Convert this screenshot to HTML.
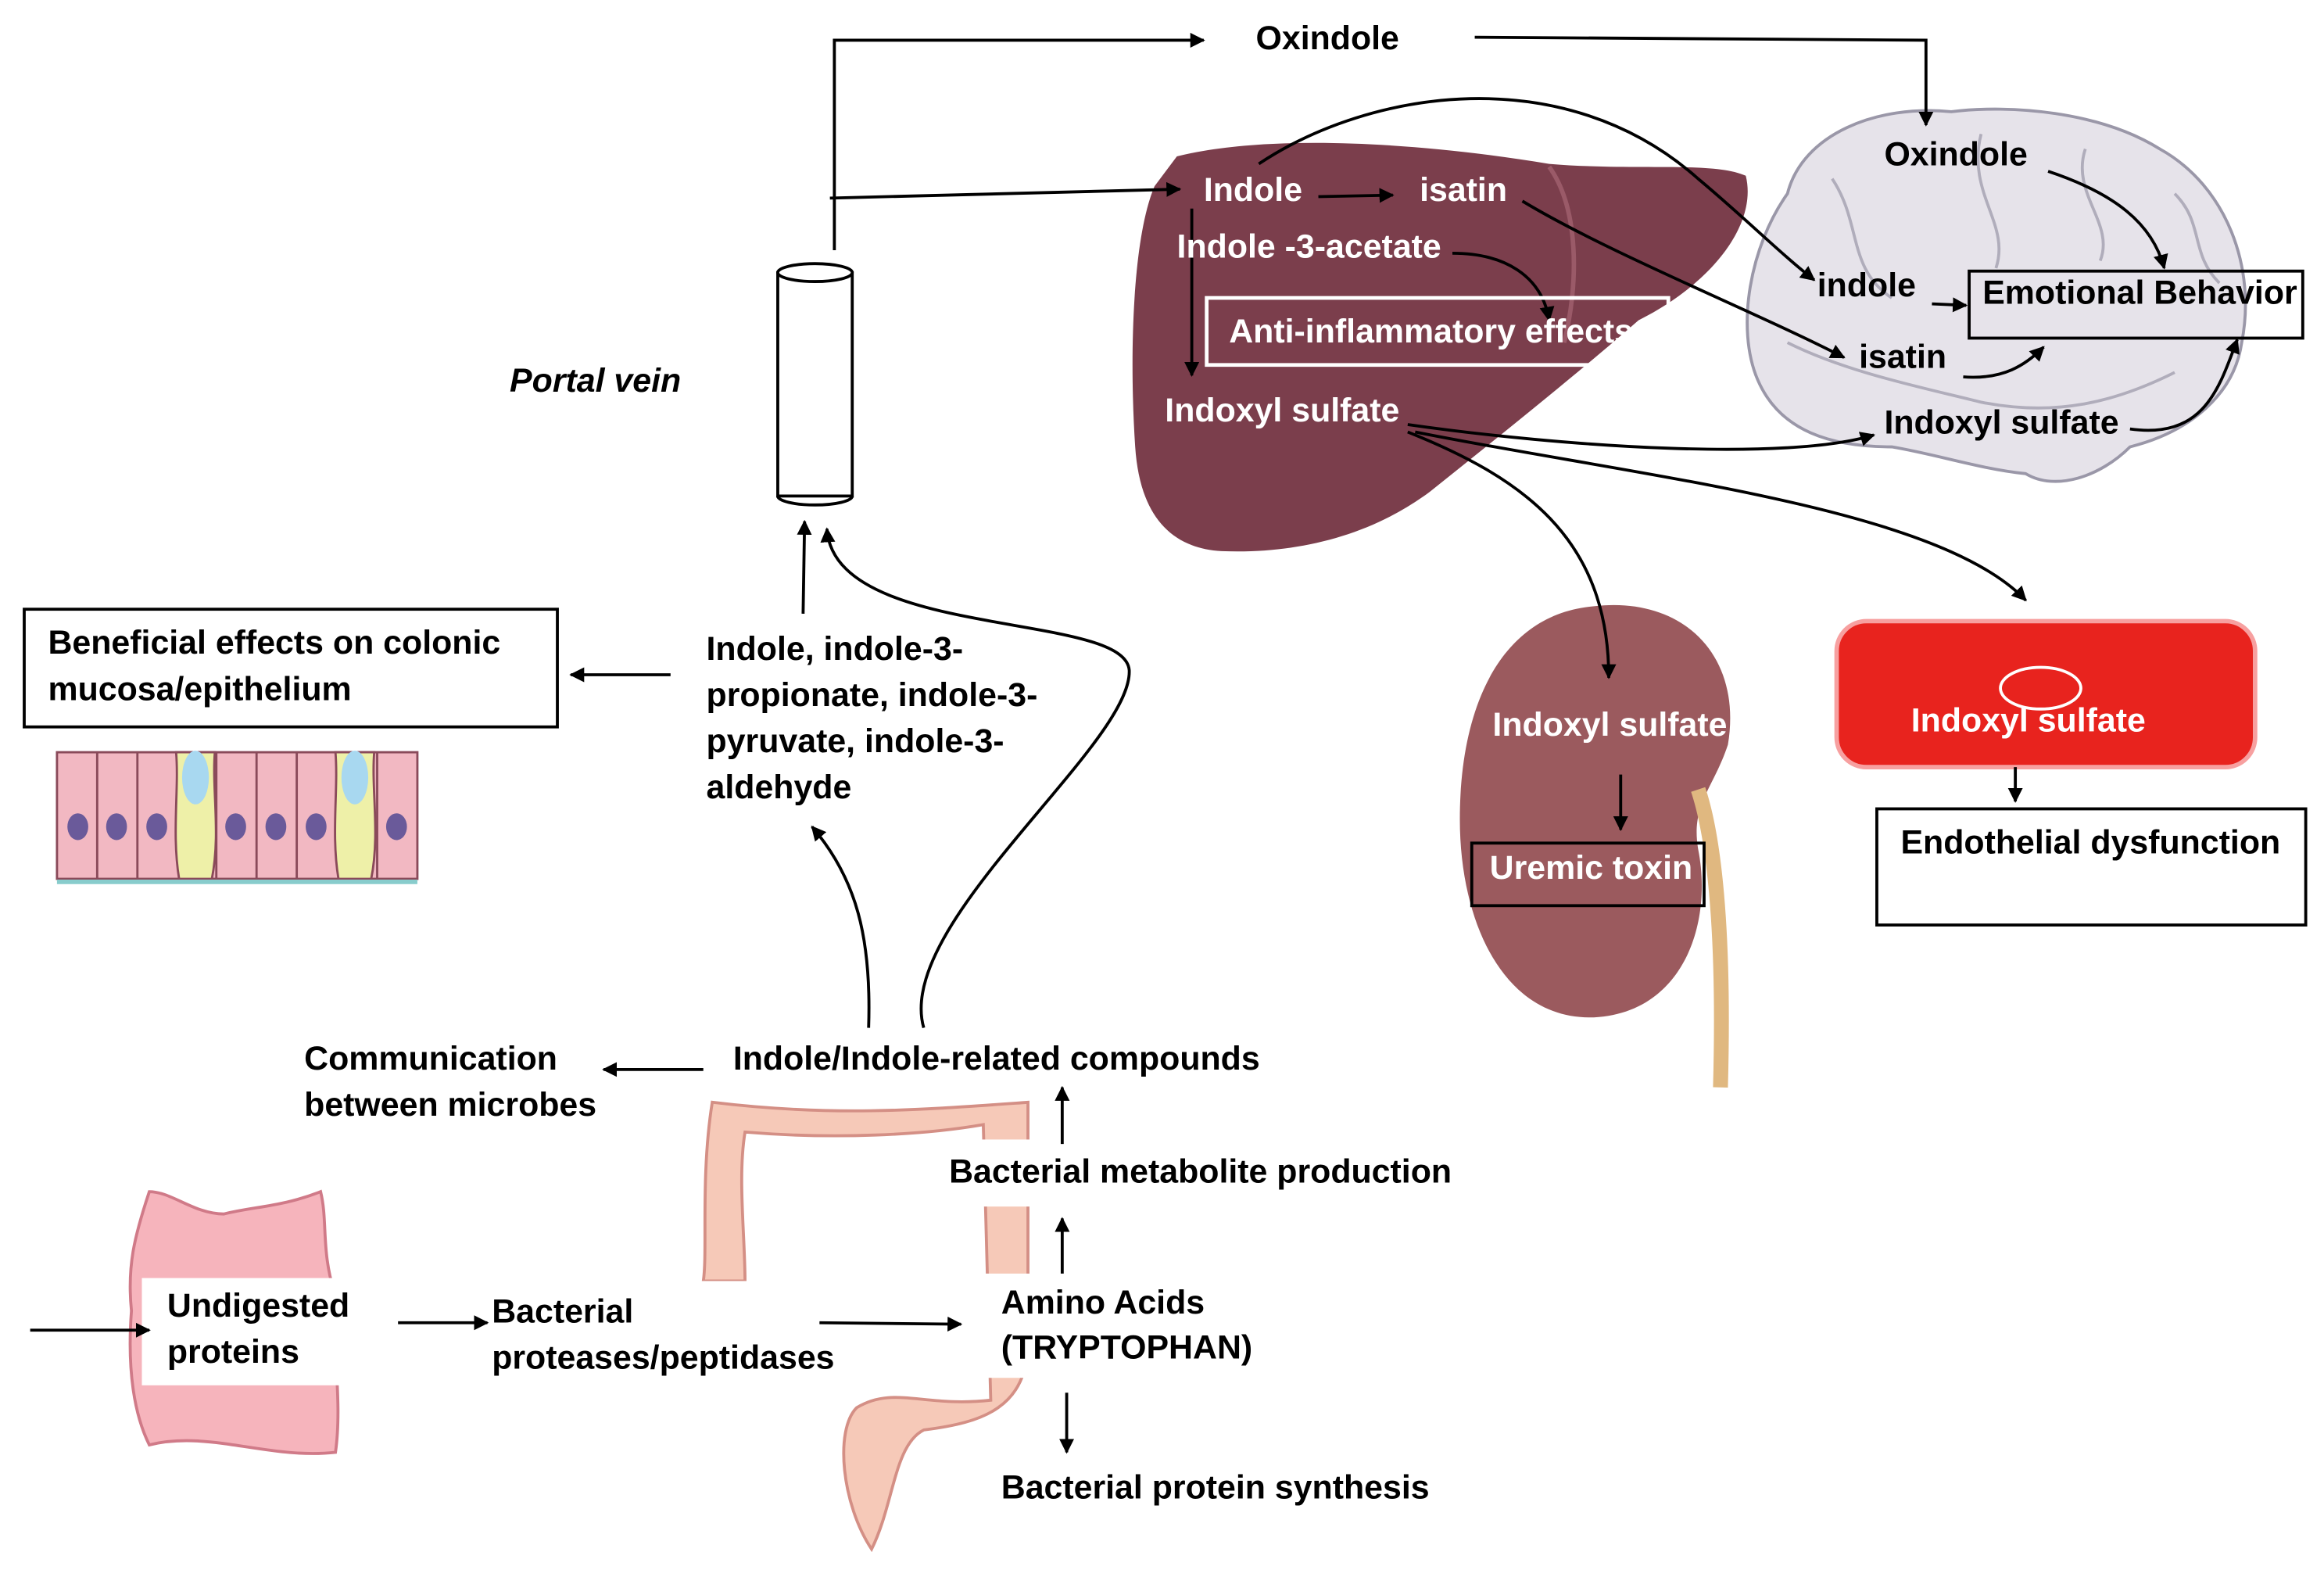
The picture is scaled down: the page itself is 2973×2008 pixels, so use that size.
<!DOCTYPE html>
<html><head><meta charset="utf-8"><style>
html,body{margin:0;padding:0;background:#fff;}
svg{display:block;}
text{font-family:"Liberation Sans",sans-serif;font-weight:bold;font-size:22.5px;dominant-baseline:middle;}
</style></head><body>
<svg width="2973" height="2008" viewBox="0 0 1560 1054" xmlns="http://www.w3.org/2000/svg">
<defs>
<marker id="a" markerWidth="10" markerHeight="10" refX="9" refY="5" orient="auto" markerUnits="userSpaceOnUse"><path d="M0,0 L10,5 L0,10 z" fill="#000"/></marker>
</defs>
<!-- liver -->
<path d="M790,105 C850,90 950,95 1040,110 C1100,115 1150,108 1172,118 C1180,150 1150,190 1100,215 C1060,250 1010,290 960,330 C920,360 870,372 820,370 C785,368 765,345 762,300 C758,240 760,160 775,125 Z" fill="#7b3e4c"/>
<path d="M1040,112 C1060,140 1060,190 1050,230" stroke="#9a5a68" stroke-width="3" fill="none"/>
<!-- brain -->
<path d="M1200,130 C1210,90 1260,70 1310,75 C1350,70 1410,75 1450,100 C1495,125 1515,180 1505,230 C1500,265 1470,290 1430,300 C1410,320 1380,330 1360,318 C1330,315 1300,305 1270,300 C1230,300 1195,290 1180,255 C1165,220 1175,165 1200,130 Z" fill="#e6e3ea" stroke="#9a97a8" stroke-width="2"/>
<g stroke="#b0adbb" stroke-width="2" fill="none">
<path d="M1230,120 C1250,150 1240,180 1270,200"/><path d="M1330,90 C1320,130 1350,150 1340,180"/>
<path d="M1400,100 C1390,130 1420,150 1410,175"/><path d="M1200,230 C1240,250 1290,260 1330,270 C1380,280 1420,270 1460,250"/>
<path d="M1460,130 C1480,150 1470,170 1490,190"/>
</g>
<!-- kidney -->
<path d="M1070,407 C1130,400 1170,440 1160,500 C1150,530 1135,540 1140,570 C1150,620 1130,680 1070,683 C1010,685 980,620 980,550 C980,470 1010,412 1070,407 Z" fill="#9b5a5e"/>
<path d="M1140,530 C1150,560 1158,620 1155,730" stroke="#e0b880" stroke-width="10" fill="none"/>
<!-- red cell -->
<rect x="1233" y="417" width="281" height="98" rx="20" fill="#e8231e" stroke="#f7a0a0" stroke-width="3"/>
<ellipse cx="1370" cy="462" rx="27" ry="14" fill="none" stroke="#fff" stroke-width="2"/>
<!-- portal vein -->
<rect x="522" y="183" width="50" height="150" fill="#fff" stroke="#000" stroke-width="2"/>
<ellipse cx="547" cy="183" rx="25" ry="6" fill="#fff" stroke="#000" stroke-width="2"/>
<path d="M522,333 A25,6 0 0 0 572,333" fill="none" stroke="#000" stroke-width="2"/>
<text x="342" y="257" font-style="italic" font-size="24">Portal vein</text>
<!-- epithelium -->
<g stroke="#8a4a5a" stroke-width="1.5">
<rect x="38" y="505" width="242" height="85" fill="#f2b8c2"/>
<line x1="65" y1="505" x2="65" y2="590"/><line x1="92" y1="505" x2="92" y2="590"/>
<line x1="145" y1="505" x2="145" y2="590"/><line x1="172" y1="505" x2="172" y2="590"/>
<line x1="199" y1="505" x2="199" y2="590"/><line x1="253" y1="505" x2="253" y2="590"/>
<path d="M120,590 C115,560 120,530 118,505 L144,505 C142,530 148,560 142,590 Z" fill="#eef0a8"/>
<path d="M227,590 C222,560 227,530 225,505 L251,505 C249,530 255,560 249,590 Z" fill="#eef0a8"/>
</g>
<ellipse cx="131" cy="522" rx="9" ry="18" fill="#a8d8f0"/><ellipse cx="238" cy="522" rx="9" ry="18" fill="#a8d8f0"/>
<g fill="#6a5a9a"><ellipse cx="52" cy="555" rx="7" ry="9"/><ellipse cx="78" cy="555" rx="7" ry="9"/><ellipse cx="105" cy="555" rx="7" ry="9"/><ellipse cx="158" cy="555" rx="7" ry="9"/><ellipse cx="185" cy="555" rx="7" ry="9"/><ellipse cx="212" cy="555" rx="7" ry="9"/><ellipse cx="266" cy="555" rx="7" ry="9"/></g>
<line x1="38" y1="592" x2="280" y2="592" stroke="#8cc" stroke-width="3"/>
<!-- intestines -->
<g fill="#f6c9b8" stroke="#d48f85" stroke-width="2">
<path d="M478,740 C470,790 475,840 472,860 L500,860 C500,830 495,790 500,760 C560,765 620,762 660,755 L665,940 C620,945 600,930 575,945 C560,960 565,1010 585,1040 C600,1010 600,970 620,960 C660,955 690,945 690,900 L690,740 C620,745 560,750 478,740 Z"/>
<path d="M100,800 C90,830 85,850 88,880 C85,920 90,950 100,970 C140,960 180,980 225,975 C230,940 222,900 225,870 C215,840 220,820 215,800 C190,810 170,810 150,815 C130,815 115,800 100,800 Z" fill="#f6b4bc" stroke="#d07a88"/>
</g>
<rect x="95" y="858" width="135" height="72" fill="#fff"/>
<rect x="315" y="860" width="282" height="75" fill="#fff"/>
<rect x="622" y="765" width="375" height="45" fill="#fff"/>
<rect x="655" y="855" width="180" height="70" fill="#fff"/>
<rect x="472" y="697" width="395" height="36" fill="#fff"/>
<!-- connectors -->
<g fill="none" stroke="#000" stroke-width="2">
<path d="M560,168 L560,27 L808,27" marker-end="url(#a)"/>
<path d="M990,25 L1293,27 L1293,84" marker-end="url(#a)"/>
<path d="M557,133 L792,127" marker-end="url(#a)"/>
<path d="M885,132 L935,131" marker-end="url(#a)"/>
<path d="M800,140 L800,252" marker-end="url(#a)"/>
<path d="M975,170 C1010,170 1035,185 1040,215" marker-end="url(#a)"/>
<path d="M845,110 C920,60 1050,40 1140,120 C1170,145 1195,170 1218,188" marker-end="url(#a)"/>
<path d="M1022,135 C1080,170 1180,210 1238,240" marker-end="url(#a)"/>
<path d="M945,285 C1050,300 1200,310 1258,292" marker-end="url(#a)"/>
<path d="M945,290 C1020,320 1080,360 1080,455" marker-end="url(#a)"/>
<path d="M950,290 C1100,320 1300,340 1360,403" marker-end="url(#a)"/>
<path d="M1375,115 C1420,130 1445,150 1453,180" marker-end="url(#a)"/>
<path d="M1297,204 L1320,205" marker-end="url(#a)"/>
<path d="M1318,253 C1345,255 1360,245 1372,233" marker-end="url(#a)"/>
<path d="M1430,288 C1480,295 1490,260 1502,228" marker-end="url(#a)"/>
<path d="M1088,520 L1088,557" marker-end="url(#a)"/>
<path d="M1353,515 L1353,538" marker-end="url(#a)"/>
<path d="M450,453 L383,453" marker-end="url(#a)"/>
<path d="M539,412 L540,350" marker-end="url(#a)"/>
<path d="M620,690 C600,620 760,500 758,450 C755,410 560,430 555,355" marker-end="url(#a)"/>
<path d="M583,690 C585,630 575,590 545,555" marker-end="url(#a)"/>
<path d="M472,718 L405,718" marker-end="url(#a)"/>
<path d="M713,768 L713,730" marker-end="url(#a)"/>
<path d="M713,855 L713,818" marker-end="url(#a)"/>
<path d="M716,935 L716,975" marker-end="url(#a)"/>
<path d="M20,893 L100,893" marker-end="url(#a)"/>
<path d="M267,888 L327,888" marker-end="url(#a)"/>
<path d="M550,888 L645,889" marker-end="url(#a)"/>
</g>
<!-- liver texts -->
<g fill="#fff">
<text x="808" y="129">Indole</text>
<text x="953" y="129">isatin</text>
<text x="790" y="167">Indole -3-acetate</text>
<text x="825" y="224">Anti-inflammatory effects</text>
<text x="782" y="277">Indoxyl sulfate</text>
<text x="1002" y="488">Indoxyl sulfate</text>
<text x="1000" y="584">Uremic toxin</text>
<text x="1283" y="485">Indoxyl sulfate</text>
</g>
<rect x="810" y="200" width="310" height="45" fill="none" stroke="#fff" stroke-width="2.5"/>
<rect x="988" y="566" width="156" height="42" fill="none" stroke="#000" stroke-width="2"/>
<text x="1265" y="105">Oxindole</text>
<text x="843" y="27">Oxindole</text>
<text x="1220" y="193">indole</text>
<rect x="1322" y="182" width="224" height="45" fill="none" stroke="#000" stroke-width="2"/>
<text x="1331" y="198">Emotional Behavior</text>
<text x="1248" y="241">isatin</text>
<text x="1265" y="285">Indoxyl sulfate</text>
<rect x="1260" y="543" width="288" height="78" fill="#fff" stroke="#000" stroke-width="2"/>
<text x="1276" y="567">Endothelial dysfunction</text>
<rect x="16" y="409" width="358" height="79" fill="#fff" stroke="#000" stroke-width="2"/>
<text x="32" y="433">Beneficial  effects on colonic</text>
<text x="32" y="464">mucosa/epithelium</text>
<text x="474" y="437">Indole, indole-3-</text>
<text x="474" y="468">propionate, indole-3-</text>
<text x="474" y="499">pyruvate, indole-3-</text>
<text x="474" y="530">aldehyde</text>
<text x="492" y="712">Indole/Indole-related compounds</text>
<text x="204" y="712">Communication</text>
<text x="204" y="743">between microbes</text>
<text x="637" y="788">Bacterial metabolite production</text>
<text x="672" y="876">Amino Acids</text>
<text x="672" y="906" font-size="20">(TRYPTOPHAN)</text>
<text x="672" y="1000">Bacterial protein synthesis</text>
<text x="112" y="878">Undigested</text>
<text x="112" y="909">proteins</text>
<text x="330" y="882">Bacterial</text>
<text x="330" y="913">proteases/peptidases</text>
</svg>
</body></html>
